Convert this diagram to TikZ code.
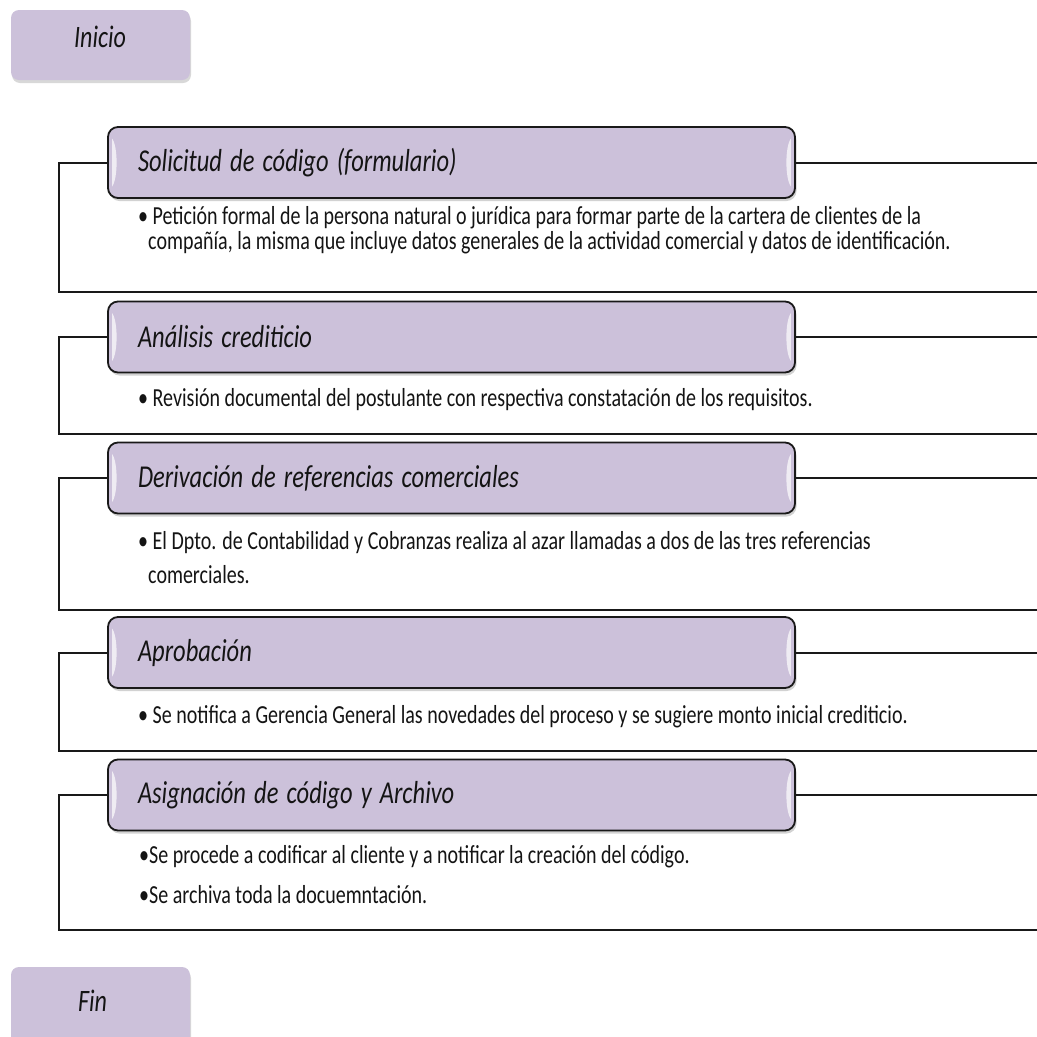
\documentclass[tikz,border=0pt]{standalone}
\usepackage{graphicx}
\usepackage{fontspec}
\setmainfont{Carlito}[ItalicFeatures={WordSpace=0.8}]
\usetikzlibrary{shadows,calc}
\definecolor{lav}{RGB}{204,193,218}
\definecolor{framec}{RGB}{25,25,25}
\definecolor{txt}{RGB}{20,20,20}
\newcommand{\tallt}[1]{\scalebox{1}[1.3]{#1}}
\begin{document}
\begin{tikzpicture}[x=1pt,y=-1pt,
  endbox/.style={fill=lav, rounded corners=8pt, minimum width=179pt, minimum height=70pt, inner sep=0pt,
    drop shadow={opacity=0.3, shadow xshift=1pt, shadow yshift=-3pt}},
  endtext/.style={anchor=west, inner sep=0pt, text=txt, font=\itshape\fontsize{24}{28}\selectfont},
  hdr/.style={draw=framec, line width=1.8pt, fill=lav, rounded corners=10pt, minimum height=71pt,
    text width=627pt, inner xsep=30pt, inner ysep=0pt, align=left, text=txt,
    font=\itshape\fontsize{24.5}{28}\selectfont,
    drop shadow={opacity=0.35, shadow xshift=1.5pt, shadow yshift=-3pt}},
  body/.style={anchor=west, inner sep=0pt, text=txt, font=\fontsize{20}{24}\selectfont},
  frameline/.style={draw=framec, line width=2pt},
  gloss/.style={fill=white, opacity=0.7}]
\useasboundingbox (0,0) rectangle (1037,1037);
\clip (0,0) rectangle (1037,1037);
\fill[white] (0,0) rectangle (1037,1037);

% Inicio / Fin
\node[endbox] (inicio) at (100.5,45) {};
\node[endtext] (iniciotxt) at (74,37) {\tallt{Inicio}};
\node[endbox, minimum height=80pt] (fin) at (100.5,1007) {};
\node[endtext] (fintxt) at (78,1001) {\tallt{Fin}};

% section frames: header center y, frame bottom y
\foreach \n/\yc/\yb in {1/162.5/292, 2/337/434, 3/478/610, 4/652.5/751, 5/795/930}{
  \coordinate (tl\n) at (59,\yc);
  \coordinate (bl\n) at (59,\yb);
  \coordinate (br\n) at (1040,\yb);
  \coordinate (tr\n) at (1040,\yc);
}

\node[hdr] (h1) at (451.5,162.5) {\tallt{Solicitud de código (formulario)}};
\node[hdr] (h2) at (451.5,337) {\tallt{Análisis crediticio}};
\node[hdr] (h3) at (451.5,478) {\tallt{Derivación de referencias comerciales}};
\node[hdr] (h4) at (451.5,652.5) {\tallt{Aprobación}};
\node[hdr] (h5) at (451.5,795) {\tallt{Asignación de código y Archivo}};

\foreach \n in {1,...,5}{
  \draw[frameline] (h\n.west) -- (tl\n) -- (bl\n) -- (br\n);
  \draw[frameline] (h\n.east) -- (tr\n);
  \fill[gloss] ($(h\n.west)+(5,-24)$) .. controls ($(h\n.west)+(11,-16)$) and ($(h\n.west)+(11,16)$) .. ($(h\n.west)+(5,24)$) -- cycle;
  \fill[gloss] ($(h\n.east)+(-5,-24)$) .. controls ($(h\n.east)+(-11,-16)$) and ($(h\n.east)+(-11,16)$) .. ($(h\n.east)+(-5,24)$) -- cycle;
}

% body texts
\node[body] (b1a) at (138,218) {\tallt{•\ Petición formal de la persona natural o jurídica para formar parte de la cartera de clientes de la}};
\node[body] (b1b) at (148,243) {\tallt{compañía, la misma que incluye datos generales de la actividad comercial y datos de identificación.}};
\node[body] (b2a) at (138,400) {\tallt{•\ Revisión documental del postulante con respectiva constatación de los requisitos.}};
\node[body] (b3a) at (138,543) {\tallt{•\ El Dpto. de Contabilidad y Cobranzas realiza al azar llamadas a dos de las tres referencias}};
\node[body] (b3b) at (148,575) {\tallt{comerciales.}};
\node[body] (b4a) at (138,717) {\tallt{•\ Se notifica a Gerencia General las novedades del proceso y se sugiere monto inicial crediticio.}};
\node[body] (b5a) at (139,857) {\tallt{•Se procede a codificar al cliente y a notificar la creación del código.}};
\node[body] (b5b) at (139,895) {\tallt{•Se archiva toda la docuemntación.}};
\end{tikzpicture}
\end{document}
